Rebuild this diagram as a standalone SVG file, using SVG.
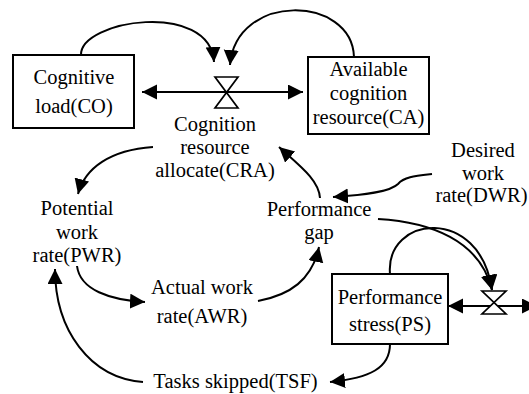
<svg xmlns="http://www.w3.org/2000/svg" width="529" height="394" viewBox="0 0 529 394">
  <style>
    .lbl { font-family: 'Liberation Serif', 'Times New Roman', serif; font-size: 20.5px; fill: #000; text-anchor: middle; }
    .box { fill: #fff; stroke: #000; stroke-width: 2; }
    .valve { fill: #fff; stroke: #000; stroke-width: 1.7; stroke-linejoin: miter; }
    .flow { fill: none; stroke: #000; stroke-width: 2; marker-start: url(#head); marker-end: url(#head); }
    .link { fill: none; stroke: #000; stroke-width: 2; marker-end: url(#head); }
  </style>
  <defs>
    <marker id="head" markerUnits="userSpaceOnUse" markerWidth="16" markerHeight="16" refX="15" refY="7.5" orient="auto-start-reverse">
      <path d="M0,0 L15,7.5 L0,15 Z" fill="#000"/>
    </marker>
  </defs>
  <rect width="529" height="394" fill="#fff"/>

  <!-- flows and information links -->
  <g id="connectors">
    <path class="flow" d="M142,92 L303,92"/>
    <path class="flow" d="M448,306 L537,306"/>
    <path class="link" d="M81,55 C80,20 210,0 214,62"/>
    <path class="link" d="M354,57 C352,-5 236,-8 230,65"/>
    <path class="link" d="M153,147 C110,150 85,168 78,194"/>
    <path class="link" d="M77,266 C80,290 110,300 145,302"/>
    <path class="link" d="M258,301 C290,295 312,280 319,247"/>
    <path class="link" d="M320,198 C319,180 300,166 279,147"/>
    <path class="link" d="M432,174 C415,176 404,177 398,184 C390,192 365,195 333,197"/>
    <path class="link" d="M378,219 C430,222 480,240 492,290"/>
    <path class="link" d="M390,274 C385,215 480,205 492,290"/>
    <path class="link" d="M390,344 C390,368 370,378 330,382"/>
    <path class="link" d="M143,382 C90,378 55,330 55,269"/>
  </g>

  <g id="cognitive-load">
    <rect class="box" x="13" y="55" width="121" height="73"/>
    <text class="lbl" x="74" y="84">Cognitive</text>
    <text class="lbl" x="74" y="113">load(CO)</text>
  </g>

  <g id="available-cognition">
    <rect class="box" x="308" y="57" width="121" height="77"/>
    <text class="lbl" x="368.5" y="76">Available</text>
    <text class="lbl" x="368.5" y="100">cognition</text>
    <text class="lbl" x="368.5" y="123.5">resource(CA)</text>
  </g>

  <g id="cognition-allocate">
    <path class="valve" d="M215,77 L238,77 L215,108 L238,108 Z"/>
    <text class="lbl" x="215" y="131">Cognition</text>
    <text class="lbl" x="215" y="154">resource</text>
    <text class="lbl" x="215" y="177">allocate(CRA)</text>
  </g>

  <g id="potential-work-rate">
    <text class="lbl" x="77" y="215">Potential</text>
    <text class="lbl" x="77" y="238.5">work</text>
    <text class="lbl" x="77" y="262">rate(PWR)</text>
  </g>

  <g id="actual-work-rate">
    <text class="lbl" x="202" y="294">Actual work</text>
    <text class="lbl" x="202" y="323">rate(AWR)</text>
  </g>

  <g id="performance-gap">
    <text class="lbl" x="319" y="215.5">Performance</text>
    <text class="lbl" x="319" y="239">gap</text>
  </g>

  <g id="desired-work-rate">
    <text class="lbl" x="483" y="157">Desired</text>
    <text class="lbl" x="483" y="179.5">work</text>
    <text class="lbl" x="481.5" y="202">rate(DWR)</text>
  </g>

  <g id="performance-stress">
    <rect class="box" x="332" y="274" width="116" height="70"/>
    <text class="lbl" x="390" y="303.5">Performance</text>
    <text class="lbl" x="390" y="331">stress(PS)</text>
  </g>

  <g id="stress-change">
    <path class="valve" d="M482,291 L506,291 L482,314 L506,314 Z"/>
  </g>

  <g id="tasks-skipped">
    <text class="lbl" x="235.5" y="388">Tasks skipped(TSF)</text>
  </g>
</svg>
